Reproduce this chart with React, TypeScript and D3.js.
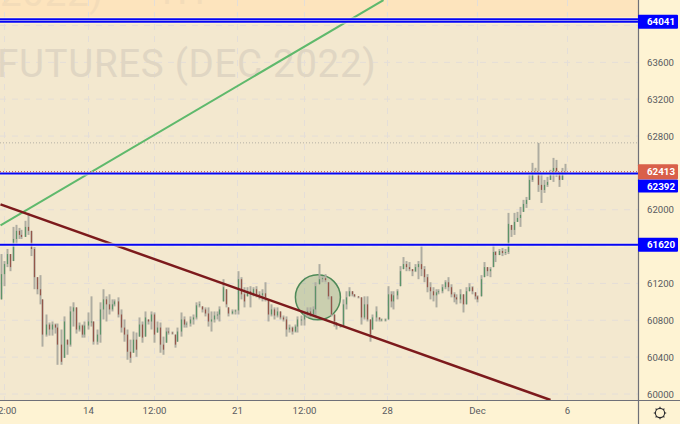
import React from "react";
import * as d3 from "d3";

const highs = [61519,61443,61574,61519,61814,61836,61803,61782,61880,61967,
61771,61596,61268,61290,61027,60863,60776,60787,60765,60765,
60700,60842,60590,60951,60995,60940,60776,60754,60787,60885,
61060,60787,60700,60995,61137,61060,61082,61027,61027,61049,
60918,60809,60700,60590,60678,60667,60831,60787,60896,60809,
60896,60885,60787,60776,60623,60721,60721,60678,60645,60721,
60885,60842,60787,60842,60863,60995,61005,60951,60940,60940,
60896,60896,60896,60951,61246,61137,60940,60918,60918,61333,
61268,61159,61159,61170,61159,61170,61115,61137,61213,61027,
60973,60940,60940,60896,60852,60842,60754,60732,60754,60842,
60852,60885,60940,60940,60951,61213,61410,61279,61301,61213,
61060,60863,60776,60754,61027,61115,61159,61115,61082,61060,
61049,61060,61060,60809,60863,60951,60831,60820,60820,61170,
61115,61115,61137,61388,61486,61443,61432,61355,61410,61443,
61607,61388,61301,61213,61159,61137,61137,61191,61235,61268,
61191,61104,61082,61137,61082,61159,61202,61170,61104,61071,
61290,61432,61377,61377,61629,61552,61574,61585,61574,61966,
61835,61966,61977,62031,62107,62139,62378,62509,62455,62726,
62400,62324,62357,62433,62563,62541,62411,62454,62498];

const lows = [61027,61170,61377,61333,61443,61629,61683,61683,61705,61727,
61497,61137,61082,60973,60514,60623,60634,60634,60656,60317,
60317,60393,60426,60514,60732,60656,60678,60612,60612,60700,
60732,60536,60536,60557,60809,60787,60863,60896,60951,60831,
60667,60568,60372,60339,60448,60404,60623,60557,60623,60754,
60700,60557,60667,60448,60426,60557,60645,60645,60503,60568,
60623,60721,60721,60732,60754,60809,60940,60885,60842,60732,
60678,60776,60809,60787,61005,60940,60842,60863,60863,60863,
61027,60940,61060,60940,61060,61049,61027,61005,61005,60787,
60842,60809,60831,60809,60787,60623,60667,60645,60667,60667,
60743,60743,60831,60831,60842,60831,61191,61213,61213,61027,
60842,60732,60700,60721,60732,60918,61060,61060,61049,61038,
60754,60809,60787,60568,60700,60787,60787,60787,60787,60809,
60940,60918,61027,61170,61355,61333,61333,61279,61323,61246,
61279,61213,61104,61027,61005,60940,61082,61093,61137,61115,
61049,60995,60973,60984,60885,60973,61115,61082,61027,60995,
61060,61268,61279,61268,61377,61432,61508,61497,61508,61519,
61705,61727,61868,61814,61977,62020,62107,62302,62378,62194,
62074,62183,62248,62324,62302,62357,62248,62324,62378];

const closes = [61301,61410,61519,61377,61683,61771,61727,61705,61814,61771,
61574,61268,61137,61071,60645,60754,60700,60754,60721,60536,
60350,60787,60536,60896,60940,60700,60743,60645,60743,60787,
60787,60568,60645,60918,61027,60973,60918,60973,61005,60863,
60721,60645,60459,60393,60590,60481,60754,60612,60831,60787,
60863,60645,60721,60536,60481,60678,60667,60656,60536,60678,
60809,60754,60765,60809,60831,60962,60973,60918,60874,60787,
60809,60852,60863,60918,61159,60973,60874,60896,60907,61246,
61082,61005,61115,61082,61137,61082,61071,61093,61049,60863,
60918,60852,60896,60831,60809,60700,60721,60678,60732,60809,
60809,60863,60896,60863,60918,61170,61246,61257,61235,61060,
60863,60787,60743,60743,60973,61049,61115,61082,61060,61049,
60831,60973,60809,60645,60831,60896,60809,60809,60809,61082,
61005,61071,61115,61333,61410,61377,61355,61333,61377,61410,
61355,61268,61159,61115,61071,61104,61115,61159,61213,61159,
61082,61049,61027,61082,60973,61115,61159,61115,61060,61027,
61246,61377,61333,61355,61541,61508,61552,61530,61541,61847,
61781,61868,61911,61944,62063,62107,62324,62411,62411,62270,
62215,62270,62302,62378,62454,62411,62324,62411,62411];

const priceTicks = [60000,60400,60800,61200,62000,62800,63200,63600];
const gridOnly = [61600,62400,64000];
const timeTicks = [1.33,29.33,51.33,79,101.33,129,159,189];
const timeLabels = ["12:00","14","12:00","21","12:00","28","Dec","6"];
const blueLevels = [64041,64068,61620,62392];
const lastPrice = 62413;
const highMark = 62726;
const boxLabels = [
  { value: 64041, color: "#0000ff", h: 14, shift: 0 },
  { value: 61620, color: "#0000ff", h: 14, shift: 0 },
  { value: 62392, color: "#0000ff", h: 13, shift: 12.5 },
  { value: 62413, color: "#d9604a", h: 15, shift: 0 },
];
const greenTrendIdx = [0, 127.67];
const greenTrendPrice = [61830, 64276];
const brownTrendIdx = [0, 183.33];
const brownTrendPrice = [62058, 59935];
const circleCentre = { idx: 105.8, price: 61050 };
const watermarkTop = ["2022)", "1H"];
const watermarkMain = "FUTURES (DEC 2022)";

const W = 680, H = 424, plotR = 638, plotB = 400;

export default function App() {
  const x = d3.scaleLinear().domain([0, 188]).range([0.5, 564.5]);
  const y = d3.scaleLinear().domain([60000, 64041]).range([394, 21.7]);
  const clamp = (v: number, a: number, b: number) => Math.max(a, Math.min(b, v));
  const line = d3.line<[number, number]>().x((d) => x(d[0])).y((d) => y(d[1]));
  return (
    <svg width={W} height={H} style={{ position: "absolute", left: 0, top: 0, fontFamily: "Roboto, sans-serif" }}>
      <defs>
        <clipPath id="plot"><rect x={0} y={0} width={plotR} height={plotB} /></clipPath>
        <filter id="soft" x="-2%" y="-2%" width="104%" height="104%"><feGaussianBlur stdDeviation="0.35" /></filter>
      </defs>
      <rect width={W} height={H} fill="#fef3d3" />
      <rect width={plotR} height={plotB} fill="#f3e8cf" />
      <rect width={plotR} height={y(64068)} fill="#fde4bd" />
      <g clipPath="url(#plot)">
        {timeTicks.map((t, i) => (
          <line key={i} x1={x(t)} x2={x(t)} y1={0} y2={plotB} stroke="#e4ded8" strokeDasharray="6 6" />
        ))}
        {[...priceTicks, ...gridOnly].map((p) => (
          <line key={p} x1={0} x2={plotR} y1={y(p)} y2={y(p)} stroke="#e4ded8" strokeDasharray="6 6" />
        ))}
        <text x={-3} y={77} fontSize={38.5} fill="#e0d6c3" letterSpacing={0.68}>{watermarkMain}</text>
        <text x={0} y={6} fontSize={38.5} fill="#f3dcb9" letterSpacing={0.68}>{watermarkTop[0]}</text>
        <text x={155} y={4} fontSize={38.5} fill="#f3dcb9" letterSpacing={0.68}>{watermarkTop[1]}</text>
        <circle cx={x(circleCentre.idx)} cy={y(circleCentre.price)} r={22.5} fill="#4e8350" fillOpacity={0.25} stroke="#4e8a58" strokeWidth={1.5} />
        <line x1={0} x2={plotR} y1={y(highMark)} y2={y(highMark)} stroke="#b5b0a5" strokeDasharray="1 2" />
        <g filter="url(#soft)">
          {closes.map((c, i) => {
            const o = clamp(i === 0 ? lows[0] : closes[i - 1], lows[i], highs[i]);
            const cx = Math.round(x(i)) + 0.5;
            const up = c >= o;
            const top = y(Math.max(o, c)), bot = y(Math.min(o, c));
            return (
              <g key={i}>
                <line x1={cx} x2={cx} y1={y(highs[i])} y2={y(lows[i])} stroke="#aeaca1" strokeWidth={2} />
                <line x1={cx} x2={cx} y1={top} y2={Math.max(bot, top + 1)} stroke={up ? "#5c9367" : "#94574a"} strokeWidth={1.2} />
              </g>
            );
          })}
        </g>
        <path d={line([[greenTrendIdx[0], greenTrendPrice[0]], [greenTrendIdx[1], greenTrendPrice[1]]]) ?? ""} stroke="#5fb96c" strokeWidth={2} fill="none" />
        <path d={line([[brownTrendIdx[0], brownTrendPrice[0]], [brownTrendIdx[1], brownTrendPrice[1]]]) ?? ""} stroke="#7c1a1c" strokeWidth={2.5} fill="none" />
        {blueLevels.map((p) => (
          <line key={p} x1={0} x2={plotR} y1={y(p)} y2={y(p)} stroke="#fff9e0" strokeWidth={4} strokeOpacity={0.7} />
        ))}
        {blueLevels.map((p) => (
          <line key={p} x1={0} x2={plotR} y1={y(p)} y2={y(p)} stroke="#0505f5" strokeWidth={2} />
        ))}
        <line x1={0} x2={plotR} y1={y(lastPrice)} y2={y(lastPrice)} stroke="#c2453a" strokeDasharray="1 2" />
      </g>
      <line x1={plotR + 0.5} x2={plotR + 0.5} y1={0} y2={H} stroke="#6f7078" strokeWidth={1.2} />
      <line x1={0} x2={W} y1={plotB + 0.5} y2={plotB + 0.5} stroke="#6f7078" strokeWidth={1.2} />
      {priceTicks.map((p) => (
        <text key={p} x={647} y={y(p) + 3.7} fontSize={9.6} fill="#585a60">{p}</text>
      ))}
      {timeTicks.map((t, i) => (
        <text key={i} x={x(t)} y={414} fontSize={9.6} fill="#585a60" textAnchor="middle">{timeLabels[i]}</text>
      ))}
      {boxLabels.map((b) => {
        const cy = y(b.value) + b.shift;
        return (
          <g key={b.value}>
            <rect x={plotR} y={cy - b.h / 2} width={40} height={b.h} rx={1} fill={b.color} />
            <text x={647} y={cy + 3.7} fontSize={9.8} fontWeight={700} fill="#ffffff">{b.value}</text>
          </g>
        );
      })}
      <g transform="translate(660,413)" fill="none" stroke="#2a2a2e" strokeWidth={1.1}>
        <circle r={4.6} />
        {d3.range(8).map((k) => {
          const a = (k * Math.PI) / 4;
          return <line key={k} x1={Math.cos(a) * 4.6} y1={Math.sin(a) * 4.6} x2={Math.cos(a) * 6.2} y2={Math.sin(a) * 6.2} />;
        })}
      </g>
    </svg>
  );
}
